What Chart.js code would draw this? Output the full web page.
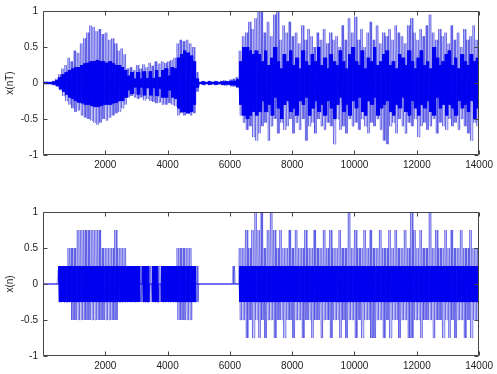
<!DOCTYPE html>
<html><head><meta charset="utf-8">
<script src="https://cdn.jsdelivr.net/npm/chart.js@4/dist/chart.umd.min.js"></script>
<style>
html,body{margin:0;padding:0;background:#fff;}
#w1,#w2{position:absolute;left:0;width:497px;height:187px;}
#w1{top:0;} #w2{top:187px;}
</style></head><body>
<div id="w1"><canvas id="c1" width="497" height="187"></canvas></div>
<div id="w2"><canvas id="c2" width="497" height="187"></canvas></div>
<script>
// ---- data (one value per 100 samples) ----
const sampleStep = 100;
const xTicks = [2000, 4000, 6000, 8000, 10000, 12000, 14000];
const yTicks = [-1, -0.5, 0, 0.5, 1];
const yTitles = ["x(nT)", "x(n)"];

// top: sampled signal x(nT) — outer (light) peaks and dense core
const topOuterUp = [
 .02,.02,.02,.03,.06,.12,.2,.25,.35,.3,
 .45,.42,.55,.62,.7,.8,.78,.72,.75,.68,
 .7,.6,.62,.55,.45,.48,.4,.2,.22,.18,
 .25,.2,.26,.22,.28,.24,.3,.27,.3,.28,
 .3,.32,.35,.55,.6,.58,.6,.55,.5,.15,
 .02,.03,.02,.03,.02,.03,.02,.03,.04,.03,
 .05,.06,.08,.45,.65,.7,.85,.75,.9,1.0,
 1.0,.7,.85,.65,.95,1.0,.6,.8,.7,.85,
 .65,.7,.55,.8,.6,.75,.65,.5,.7,.6,
 .75,.55,.7,.6,.65,.5,.8,.6,.9,.7,
 .92,.6,.75,.5,.7,.85,.6,.8,.55,.7,
 .65,.75,.6,.8,.7,.65,.55,.8,.9,.7,
 .6,.75,.65,.8,.95,.7,.6,.75,.65,.7,
 .55,.8,.6,.7,.5,.75,.6,.65,.8,.6];
const topOuterLo = [
 -.02,-.02,-.02,-.03,-.05,-.1,-.18,-.25,-.3,-.35,
 -.4,-.38,-.45,-.48,-.5,-.52,-.55,-.58,-.55,-.5,
 -.52,-.48,-.45,-.42,-.4,-.35,-.3,-.2,-.18,-.2,
 -.22,-.2,-.24,-.22,-.25,-.26,-.28,-.27,-.3,-.3,
 -.28,-.3,-.32,-.45,-.42,-.45,-.4,-.45,-.42,-.12,
 -.02,-.03,-.02,-.03,-.02,-.03,-.02,-.03,-.04,-.03,
 -.05,-.05,-.07,-.45,-.55,-.65,-.6,-.75,-.8,-.7,
 -.6,-.55,-.8,-.6,-.5,-.7,-.55,-.65,-.6,-.5,
 -.7,-.55,-.65,-.5,-.8,-.6,-.55,-.7,-.5,-.6,
 -.65,-.55,-.6,-.85,-.5,-.65,-.6,-.7,-.5,-.6,
 -.55,-.65,-.5,-.6,-.7,-.55,-.6,-.5,-.65,-.8,
 -.85,-.6,-.55,-.7,-.5,-.6,-.7,-.55,-.6,-.5,
 -.75,-.6,-.55,-.65,-.6,-.5,-.7,-.55,-.6,-.65,
 -.5,-.6,-.55,-.65,-.5,-.6,-.7,-.8,-.55,-.6];
const topCoreUp = [
 .01,.01,.01,.02,.04,.08,.12,.15,.18,.2,
 .22,.22,.25,.27,.28,.3,.3,.32,.3,.3,
 .28,.3,.27,.25,.25,.22,.18,.1,.15,.06,
 .15,.06,.16,.07,.16,.07,.18,.08,.18,.2,
 .1,.22,.2,.35,.4,.45,.42,.38,.3,.06,
 .01,.02,.01,.02,.01,.02,.01,.02,.02,.02,
 .03,.03,.05,.3,.5,.5,.45,.4,.45,.4,
 .3,.45,.25,.35,.5,.3,.2,.4,.3,.45,
 .25,.35,.2,.45,.3,.25,.4,.3,.5,.25,
 .35,.2,.4,.3,.25,.45,.3,.2,.4,.5,
 .3,.25,.45,.2,.35,.3,.5,.25,.3,.4,
 .45,.25,.3,.2,.4,.35,.25,.45,.3,.2,
 .35,.45,.25,.3,.2,.5,.35,.25,.3,.4,
 .45,.25,.35,.2,.4,.3,.25,.4,.3,.35];
const topCoreLo = [
 -.01,-.01,-.01,-.02,-.04,-.08,-.12,-.16,-.2,-.22,
 -.25,-.27,-.28,-.3,-.3,-.32,-.33,-.33,-.32,-.3,
 -.3,-.3,-.28,-.27,-.25,-.25,-.2,-.1,-.15,-.06,
 -.16,-.06,-.17,-.07,-.17,-.07,-.18,-.08,-.2,-.2,
 -.1,-.2,-.22,-.35,-.4,-.4,-.42,-.4,-.3,-.06,
 -.01,-.02,-.01,-.02,-.01,-.02,-.01,-.02,-.02,-.02,
 -.03,-.03,-.05,-.3,-.45,-.5,-.45,-.4,-.45,-.4,
 -.25,-.4,-.3,-.45,-.2,-.35,-.5,-.3,-.25,-.4,
 -.35,-.45,-.25,-.3,-.2,-.45,-.35,-.25,-.4,-.3,
 -.45,-.25,-.35,-.5,-.3,-.2,-.4,-.3,-.45,-.25,
 -.35,-.2,-.4,-.45,-.25,-.3,-.2,-.45,-.35,-.3,
 -.25,-.4,-.45,-.3,-.35,-.2,-.4,-.45,-.25,-.35,
 -.45,-.3,-.35,-.25,-.4,-.45,-.2,-.35,-.3,-.45,
 -.3,-.35,-.45,-.25,-.35,-.3,-.4,-.25,-.5,-.35];

// bottom: quantized signal x(n)
const botOuterUp = [
 0,0,0,0,0,.25,.25,.25,.5,.5,
 .5,.75,.75,.75,.75,.75,.75,.75,.75,.5,
 .5,.5,.5,.75,.5,.5,.5,.25,.25,.25,
 .25,.25,.25,.25,.25,.25,.25,.25,.25,.25,
 .25,.25,.25,.5,.5,.5,.5,.5,.25,.25,
 0,0,0,0,0,0,0,0,0,0,
 0,.25,0,.5,.5,.75,.5,.75,1,.75,
 1,.5,.75,1,.75,.5,.75,.5,.5,.75,
 .5,.75,.5,.5,.75,.5,.5,.75,.5,.5,
 .75,.5,.75,.5,.5,.75,.5,.5,1,.5,
 .75,.5,.5,.75,.5,.75,.5,.5,.75,.5,
 .5,.75,.5,.75,.5,.5,.75,.5,1,.75,
 .5,.75,.5,.5,1,.5,.75,.5,.5,.75,
 .5,.75,.5,.5,.75,.5,.5,.75,.5,.5];
const botOuterLo = [
 0,0,0,0,0,-.25,-.25,-.25,-.25,-.5,
 -.5,-.5,-.5,-.5,-.5,-.5,-.5,-.5,-.5,-.5,
 -.5,-.5,-.5,-.5,-.25,-.25,-.25,-.25,-.25,-.25,
 -.25,-.25,-.25,-.25,-.25,-.25,-.25,-.25,-.25,-.25,
 -.25,-.25,-.25,-.5,-.5,-.5,-.5,-.5,-.25,-.25,
 0,0,0,0,0,0,0,0,0,0,
 0,0,0,-.5,-.5,-.75,-.5,-.75,-.5,-.75,
 -.5,-.75,-.5,-.5,-.75,-.5,-.5,-.75,-.5,-.5,
 -.75,-.5,-.5,-.75,-.5,-.5,-.75,-.5,-.5,-.75,
 -.5,-.5,-.75,-.5,-.5,-.75,-.5,-.75,-.5,-.5,
 -.75,-.5,-.75,-.5,-.5,-.75,-.75,-.5,-.5,-.75,
 -.5,-.75,-.5,-.5,-.75,-.5,-.5,-.75,-.75,-.5,
 -.5,-.75,-.5,-.5,-.5,-.75,-.5,-.5,-.75,-.5,
 -.75,-.5,-.75,-.5,-.5,-.75,-.5,-.75,-.5,-.5];
const botCoreUp = [
 0,0,0,0,0,.25,.25,.25,.25,.25,
 .25,.25,.25,.25,.25,.25,.25,.25,.25,.25,
 .25,.25,.25,.25,.25,.25,.25,.25,.25,.25,
 .25,0,.25,.25,0,.25,.25,0,.25,.25,
 .25,.25,.25,.25,.25,.25,.25,.25,.25,0,
 0,0,0,0,0,0,0,0,0,0,
 0,0,0,.25,.25,.25,.25,.25,.25,.25,
 .25,.25,.25,.25,.25,.25,.25,.25,.25,.25,
 .25,.25,.25,.25,.25,.25,.25,.25,.25,.25,
 .25,.25,.25,.25,.25,.25,.25,.25,.25,.25,
 .25,.25,.25,.25,.25,.25,.25,.25,.25,.25,
 .25,.25,.25,.25,.25,.25,.25,.25,.25,.25,
 .25,.25,.25,.25,.25,.25,.25,.25,.25,.25,
 .25,.25,.25,.25,.25,.25,.25,.25,.25,.25];
const botCoreLo = [
 0,0,0,0,0,-.25,-.25,-.25,-.25,-.25,
 -.25,-.25,-.25,-.25,-.25,-.25,-.25,-.25,-.25,-.25,
 -.25,-.25,-.25,-.25,-.25,-.25,-.25,-.25,-.25,-.25,
 -.25,0,-.25,-.25,0,-.25,-.25,0,-.25,-.25,
 -.25,-.25,-.25,-.25,-.25,-.25,-.25,-.25,-.25,0,
 0,0,0,0,0,0,0,0,0,0,
 0,0,0,-.25,-.25,-.25,-.25,-.25,-.25,-.25,
 -.25,-.25,-.25,-.25,-.25,-.25,-.25,-.25,-.25,-.25,
 -.25,-.25,-.25,-.25,-.25,-.25,-.25,-.25,-.25,-.25,
 -.25,-.25,-.25,-.25,-.25,-.25,-.25,-.25,-.25,-.25,
 -.25,-.25,-.25,-.25,-.25,-.25,-.25,-.25,-.25,-.25,
 -.25,-.25,-.25,-.25,-.25,-.25,-.25,-.25,-.25,-.25,
 -.25,-.25,-.25,-.25,-.25,-.25,-.25,-.25,-.25,-.25,
 -.25,-.25,-.25,-.25,-.25,-.25,-.25,-.25,-.25,-.25];

// ---- build series: each 100-sample bin swings between its read peaks `reps` times ----
function zig(up, lo, off, reps) {
  const pts = [];
  const d = sampleStep / reps;
  for (let i = 0; i < up.length; i++) {
    for (let r = 0; r < reps; r++) {
      const x0 = i * sampleStep + off + r * d;
      pts.push({x: x0, y: up[i]});
      pts.push({x: x0 + d / 2, y: lo[i]});
    }
  }
  return pts;
}

const FONT = {family: "'Liberation Sans', Arial, sans-serif", size: 10};
const boxPlugin = {
  id: 'box',
  afterDatasetsDraw(chart) {
    const {ctx, chartArea: a, scales: {x, y}} = chart;
    ctx.save();
    ctx.strokeStyle = '#444';
    ctx.lineWidth = 1;
    ctx.beginPath();
    const L = Math.round(a.left) + 0.5, R = Math.round(a.right) - 0.5;
    const T = Math.round(a.top) + 0.5, B = Math.round(a.bottom) - 0.5;
    ctx.rect(L, T, R - L, B - T);
    const tl = 4;
    xTicks.forEach(v => {
      const px = Math.round(x.getPixelForValue(v)) + 0.5;
      ctx.moveTo(px, B); ctx.lineTo(px, B - tl);
      ctx.moveTo(px, T); ctx.lineTo(px, T + tl);
    });
    yTicks.forEach(v => {
      const py = Math.round(y.getPixelForValue(v)) + 0.5;
      ctx.moveTo(L, py); ctx.lineTo(L + tl, py);
      ctx.moveTo(R, py); ctx.lineTo(R - tl, py);
    });
    ctx.stroke();
    ctx.restore();
  }
};

function makeChart(id, coreUp, coreLo, outerUp, outerLo, title, padTop, xHeight) {
  return new Chart(document.getElementById(id), {
    type: 'line',
    data: {
      datasets: [
        {data: zig(coreUp, coreLo, 10, 5), borderColor: '#0000f0', borderWidth: 1,
         pointRadius: 0, tension: 0, fill: false},
        {data: zig(outerUp, outerLo, 0, 2), borderColor: 'rgba(40,40,220,0.45)', borderWidth: 1,
         pointRadius: 0, tension: 0, fill: false}
      ]
    },
    options: {
      responsive: false, animation: false, events: [],
      layout: {padding: {top: padTop, right: 13, left: 0, bottom: 0}},
      plugins: {legend: {display: false}, tooltip: {enabled: false}},
      scales: {
        x: {
          type: 'linear', min: 0, max: 14000,
          grid: {display: false, drawTicks: false}, border: {display: false},
          afterBuildTicks: s => { s.ticks = xTicks.map(v => ({value: v})); },
          afterFit: s => { s.height = xHeight; },
          ticks: {font: FONT, color: '#222', padding: 4, maxRotation: 0,
                  callback: v => String(v)}
        },
        y: {
          type: 'linear', min: -1, max: 1,
          grid: {display: false, drawTicks: false}, border: {display: false},
          afterBuildTicks: s => { s.ticks = yTicks.map(v => ({value: v})); },
          afterFit: s => { s.width = 43; },
          ticks: {font: FONT, color: '#222', padding: 5, callback: v => String(v)},
          title: {display: true, text: title, font: FONT, color: '#222', padding: {top: 4, bottom: 0}}
        }
      }
    },
    plugins: [boxPlugin]
  });
}

makeChart('c1', topCoreUp, topCoreLo, topOuterUp, topOuterLo, yTitles[0], 10, 32);
makeChart('c2', botCoreUp, botCoreLo, botOuterUp, botOuterLo, yTitles[1], 25, 18);
</script>
</body></html>
